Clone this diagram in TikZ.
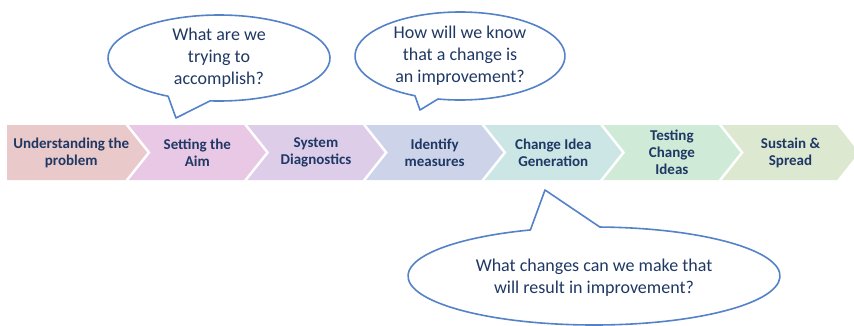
\documentclass[tikz,border=0pt]{standalone}
\usepackage{fontspec}
\setmainfont{Carlito}
\usepackage{tikz}
\usetikzlibrary{positioning,shapes.symbols}
\definecolor{navytext}{RGB}{31,56,100}
\definecolor{bubbleline}{RGB}{84,130,200}
\definecolor{stepA}{RGB}{234,201,203}
\definecolor{stepB}{RGB}{233,200,230}
\definecolor{stepC}{RGB}{221,205,233}
\definecolor{stepD}{RGB}{205,212,234}
\definecolor{stepE}{RGB}{204,230,230}
\definecolor{stepF}{RGB}{208,234,216}
\definecolor{stepG}{RGB}{221,232,209}
\tikzset{
    bubble/.style={draw=bubbleline, line width=1.6pt, line join=round, fill=white},
    question/.style={text=navytext, align=center, font=\fontsize{18}{22}\selectfont}
}

\begin{document}
\begin{tikzpicture}[x=1pt, y=-1pt, node distance=3pt,
    steptext/.style={text=navytext, align=center, font=\fontsize{15}{17}\selectfont\bfseries},
    chevron/.style={signal, signal to=east, signal from=west, signal pointer angle=103,
        minimum width=137pt, minimum height=55pt, inner sep=1pt, steptext}]

\useasboundingbox (0,0) rectangle (854,325);

\node [chevron, signal from=nowhere, minimum width=140pt, fill=stepA, anchor=west] (problem) at (7,152.5) {};
\node [steptext] (problemtext) at ([xshift=5pt]problem.center) {Understanding the\\problem};
\node [chevron, fill=stepB, right=of problem] (aim) {Setting the\\Aim};
\node [chevron, fill=stepC, right=of aim] (diag) {System\\Diagnostics};
\node [chevron, fill=stepD, right=of diag] (measures) {Identify\\measures};
\node [chevron, fill=stepE, right=of measures] (ideas) {Change Idea\\Generation};
\node [chevron, fill=stepF, right=of ideas] (testing) {Testing\\Change\\Ideas};
\node [chevron, fill=stepG, right=of testing] (spread) {Sustain \&\\Spread};

% Question bubbles
\coordinate (aimq) at (219,58);
\coordinate (aimtip) at (176,118);
\draw [bubble] (aimq) ++(117.3:111 and 43) arc[start angle=117.3, end angle=454.6, x radius=111, y radius=43] -- (aimtip) -- cycle;
\node [question] (aimtext) at (aimq) {What are we\\trying to\\accomplish?};

\coordinate (measq) at (460,56);
\coordinate (meastip) at (420,110);
\draw [bubble] (measq) ++(115.4:105 and 44) arc[start angle=115.4, end angle=462.1, x radius=105, y radius=44] -- (meastip) -- cycle;
\node [question] (meastext) at (measq) {How will we know\\that a change is\\an improvement?};

\coordinate (changeq) at (594,276);
\coordinate (changetip) at (545,190);
\draw [bubble] (changeq) ++(271.8:186 and 49) arc[start angle=271.8, end angle=610, x radius=186, y radius=49] -- (changetip) -- cycle;
\node [question] (changetext) at (594,278) {What changes can we make that\\will result in improvement?};

\end{tikzpicture}
\end{document}
